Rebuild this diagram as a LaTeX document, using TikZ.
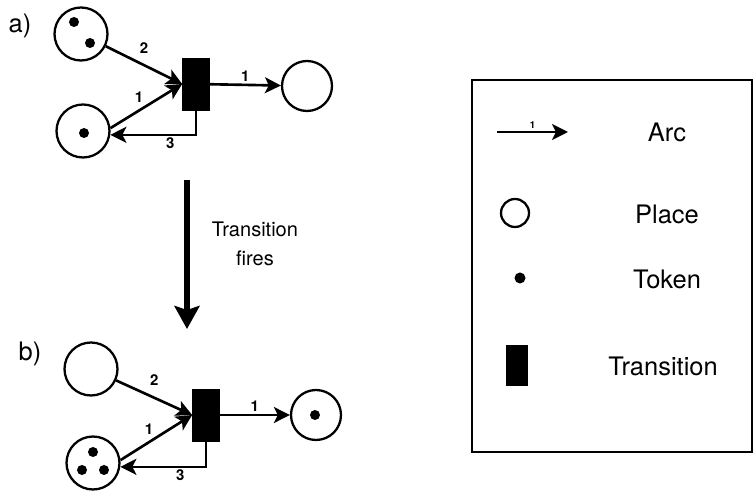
\documentclass[tikz,border=0pt]{standalone}
\usepackage{fontspec}
\setmainfont{TeX Gyre Heros}
\usetikzlibrary{arrows.meta,positioning}

\begin{document}
\begin{tikzpicture}[
    x=0.02cm, y=-0.02cm,
    place/.style={draw, circle, line width=1.3pt, minimum size=1.06cm, inner sep=0pt},
    token/.style={fill, circle, minimum size=0.2cm, inner sep=0pt},
    trans/.style={draw, fill, minimum width=0.54cm, minimum height=1.04cm, inner sep=0pt},
    arrow/.style={-{Stealth[length=3.2mm, width=3.2mm, inset=0.8mm]}, line width=1.5pt},
    weight/.style={font=\fontsize{8.5}{9}\selectfont\bfseries, inner sep=1pt},
    tag/.style={font=\fontsize{14.5}{16}\selectfont},
    legend/.style={font=\fontsize{14.5}{16}\selectfont}
  ]
    \useasboundingbox (0,0) rectangle (754,492);

    \node[tag] (tagA) at (20,26) {a)};
    \node[place] (inA) at (81,34) {};
    \node[token] (inAtokOne) at (74,22) {};
    \node[token] (inAtokTwo) at (90,43) {};
    \node[place] (backA) at (83,131) {};
    \node[token] (backAtok) at (84,133) {};
    \node[trans] (transA) at (196,84) {};
    \node[place, minimum size=1.0cm] (outA) at (307,86) {};
    \draw[arrow] (inA) -- node[weight, pos=0.5, above=5pt] {2} (transA.west);
    \draw[arrow] (backA.6) -- node[weight, pos=0.5, above left=0pt] {1} (transA.west);
    \draw[arrow] (transA.south) |- node[weight, pos=0.65, below] {3} (backA.-8);
    \draw[arrow] (transA) -- node[weight, midway, above] {1} (outA);

    \coordinate (fireTop) at (187,180);
    \coordinate (fireBottom) at (187,329);
    \draw[-{Stealth[length=4.6mm, width=5mm, inset=0.8mm]}, line width=3.5pt] (fireTop) -- (fireBottom);
    \node[align=center, font=\fontsize{11.4}{16.4}\selectfont] (fires) at (255,244) {Transition\\fires};

    \node[tag] (tagB) at (30,354) {b)};
    \node[place] (inB) at (91,369) {};
    \node[place] (backB) at (93,463) {};
    \node[token] (backBtokOne) at (93,452) {};
    \node[token] (backBtokTwo) at (82,470) {};
    \node[token] (backBtokThree) at (104,470) {};
    \node[trans] (transB) at (206,415) {};
    \node[place, minimum size=1.0cm] (outB) at (316,415) {};
    \node[token] (outBtok) at (315,415) {};
    \draw[arrow] (inB) -- node[weight, pos=0.5, above=5pt] {2} (transB.west);
    \draw[arrow] (backB.6) -- node[weight, pos=0.5, above left=0pt] {1} (transB.west);
    \draw[arrow] (transB.south) |- node[weight, pos=0.65, below] {3} (backB.-8);
    \draw[arrow] (transB) -- node[weight, midway, above] {1} (outB);

    \node[draw, line width=1.3pt, minimum width=5.6cm, minimum height=7.44cm] (legendBox) at (612,266) {};
    \coordinate (keyArcStart) at (497,132);
    \coordinate (keyArcEnd) at (568,132);
    \draw[arrow] (keyArcStart) -- node[font=\fontsize{5.5}{6}\selectfont\bfseries, above, inner sep=1.5pt] {1} (keyArcEnd);
    \node[legend] (keyArcText) at (667,132) {Arc};
    \node[place, minimum size=0.56cm] (keyPlace) at (515,213) {};
    \node[legend] (keyPlaceText) at (667,214) {Place};
    \node[token, minimum size=0.22cm] (keyToken) at (520,278) {};
    \node[legend] (keyTokenText) at (667,279) {Token};
    \node[trans, minimum width=0.42cm, minimum height=0.8cm] (keyTrans) at (517,365) {};
    \node[legend] (keyTransText) at (663,366) {Transition};
  \end{tikzpicture}
\end{document}
